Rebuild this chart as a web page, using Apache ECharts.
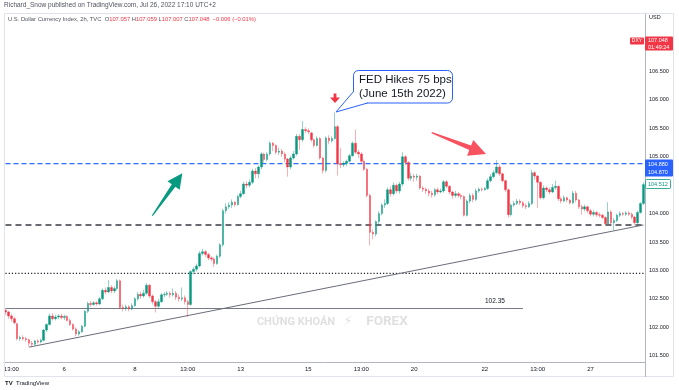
<!DOCTYPE html>
<html><head><meta charset="utf-8">
<script src="https://cdn.jsdelivr.net/npm/echarts@6.0.0/dist/echarts.min.js"></script>
<style>html,body{margin:0;padding:0;background:#fff}#c{width:679px;height:390px}</style>
</head><body><div id="c"></div>
<script>
// 2h candles, U.S. Dollar Currency Index
const opens = [
102.30,102.27,102.20,102.15,102.06,101.80,101.82,101.80,101.78,101.72,
101.70,101.76,101.74,101.77,101.95,102.05,102.20,102.15,102.18,102.20,
102.17,102.19,102.12,102.05,101.97,101.88,101.92,102.02,102.28,102.42,
102.40,102.43,102.41,102.50,102.65,102.62,102.70,102.64,102.68,102.82,
102.35,102.33,102.36,102.32,102.38,102.50,102.58,102.55,102.60,102.74,
102.55,102.45,102.37,102.45,102.57,102.58,102.60,102.57,102.60,102.53,
102.50,102.52,102.45,102.40,102.98,103.02,103.08,103.30,103.33,103.28,
103.22,103.20,103.12,103.25,103.45,104.05,104.12,104.15,104.20,104.16,
104.30,104.35,104.52,104.50,104.55,104.75,104.70,104.82,105.05,104.95,
105.05,105.24,105.20,105.08,105.10,105.05,104.96,104.82,104.98,105.05,
105.36,105.30,105.48,105.46,105.42,105.30,105.20,105.32,104.98,104.76,
105.33,105.28,105.32,105.53,104.88,104.86,104.88,104.92,105.02,105.24,
105.08,105.05,104.92,104.78,104.32,103.67,103.64,103.86,104.00,104.15,
104.18,104.42,104.35,104.50,104.40,104.52,105.00,104.90,104.62,104.66,
104.64,104.66,104.45,104.43,104.40,104.36,104.33,104.42,104.38,104.40,
104.56,104.48,104.38,104.32,104.35,104.32,104.30,103.97,104.22,104.32,
104.25,104.40,104.43,104.42,104.44,104.58,104.65,104.72,104.82,104.70,
104.58,104.42,103.98,104.15,104.18,104.22,104.19,104.14,104.12,104.18,
104.72,104.66,104.55,104.28,104.45,104.42,104.38,104.46,104.48,104.26,
104.22,104.28,104.24,104.19,104.36,104.24,104.12,104.08,104.12,104.05,
103.99,104.02,103.98,103.97,103.93,103.82,104.03,103.84,103.88,103.97,
104.00,103.99,104.01,103.99,103.94,103.84,104.02,104.18];
const closes = [
102.27,102.20,102.15,102.08,101.80,101.82,101.80,101.78,101.72,101.70,
101.76,101.74,101.77,101.95,102.05,102.20,102.15,102.18,102.20,102.17,
102.19,102.12,102.05,101.97,101.88,101.92,102.02,102.28,102.42,102.40,
102.43,102.41,102.50,102.65,102.62,102.70,102.64,102.68,102.82,102.35,
102.33,102.36,102.32,102.38,102.50,102.58,102.55,102.60,102.74,102.55,
102.45,102.37,102.45,102.57,102.58,102.60,102.57,102.60,102.53,102.50,
102.52,102.45,102.40,102.98,103.02,103.08,103.30,103.33,103.28,103.22,
103.20,103.12,103.25,103.45,104.05,104.12,104.15,104.20,104.16,104.30,
104.35,104.52,104.50,104.55,104.75,104.70,104.82,105.05,104.95,105.05,
105.24,105.20,105.08,105.10,105.05,104.96,104.82,104.98,105.05,105.36,
105.30,105.48,105.46,105.44,105.30,105.20,105.32,104.98,104.76,105.33,
105.28,105.32,105.53,104.88,104.86,104.88,104.92,105.02,105.24,105.08,
105.05,104.92,104.78,104.32,103.67,103.64,103.86,104.00,104.15,104.18,
104.42,104.35,104.50,104.40,104.52,105.00,104.90,104.62,104.66,104.64,
104.66,104.45,104.43,104.40,104.36,104.33,104.42,104.38,104.40,104.56,
104.48,104.38,104.32,104.35,104.32,104.30,103.97,104.22,104.32,104.25,
104.40,104.43,104.42,104.44,104.58,104.65,104.72,104.82,104.70,104.58,
104.42,103.98,104.15,104.18,104.22,104.19,104.14,104.12,104.18,104.72,
104.66,104.55,104.28,104.45,104.42,104.38,104.46,104.48,104.26,104.22,
104.28,104.24,104.19,104.36,104.24,104.12,104.08,104.12,104.05,103.99,
104.02,103.98,103.97,103.93,103.82,104.03,103.84,103.88,103.97,104.00,
103.99,104.01,103.99,103.94,103.84,104.02,104.18,104.51];
const lows = [
102.22,102.15,102.10,102.05,101.77,101.76,101.77,101.74,101.66,101.65,
101.68,101.71,101.72,101.75,101.92,102.03,102.12,102.12,102.14,102.14,
102.13,102.10,102.02,101.94,101.84,101.85,101.90,102.00,102.25,102.36,
102.38,102.38,102.39,102.48,102.58,102.60,102.60,102.60,102.65,102.32,
102.28,102.29,102.28,102.30,102.36,102.47,102.50,102.52,102.57,102.52,
102.40,102.26,102.33,102.43,102.53,102.55,102.52,102.54,102.48,102.45,
102.46,102.40,102.18,102.38,102.93,102.98,103.05,103.26,103.24,103.18,
103.16,103.06,103.10,103.22,103.42,104.00,104.08,104.10,104.12,104.14,
104.27,104.33,104.45,104.46,104.52,104.62,104.62,104.78,104.90,104.92,
105.02,105.10,105.04,105.03,105.00,104.90,104.65,104.78,104.95,105.02,
105.12,105.26,105.42,105.40,105.26,105.16,105.18,104.95,104.70,104.72,
105.22,105.25,105.30,104.67,104.80,104.82,104.84,104.90,105.00,105.05,
104.98,104.88,104.75,104.28,103.44,103.55,103.60,103.82,103.97,104.10,
104.15,104.30,104.32,104.36,104.35,104.48,104.85,104.58,104.58,104.56,
104.58,104.42,104.38,104.35,104.30,104.28,104.30,104.34,104.36,104.37,
104.45,104.34,104.26,104.28,104.28,104.25,103.95,103.95,104.18,104.20,
104.22,104.37,104.39,104.40,104.42,104.55,104.62,104.70,104.66,104.55,
104.38,103.93,103.95,104.12,104.15,104.15,104.10,104.08,104.10,104.15,
104.60,104.10,104.25,104.25,104.38,104.34,104.36,104.42,104.22,104.18,
104.20,104.20,104.16,104.17,104.20,104.08,103.98,104.04,104.00,103.95,
103.95,103.94,103.93,103.90,103.80,103.80,103.80,103.71,103.85,103.94,
103.96,103.96,103.96,103.90,103.80,103.80,104.00,104.15];
const highs = [
102.33,102.29,102.24,102.18,102.08,101.85,101.86,101.83,101.80,101.76,
101.78,101.79,101.80,101.97,102.07,102.24,102.25,102.22,102.23,102.24,
102.22,102.21,102.15,102.07,102.00,101.95,102.04,102.30,102.45,102.46,
102.46,102.46,102.53,102.68,102.70,102.83,102.74,102.72,102.85,102.84,
102.40,102.40,102.39,102.42,102.53,102.62,102.63,102.66,102.78,102.76,
102.58,102.48,102.50,102.60,102.62,102.64,102.63,102.68,102.64,102.58,
102.70,102.56,102.48,103.00,103.06,103.12,103.34,103.38,103.36,103.31,
103.25,103.23,103.28,103.48,104.08,104.18,104.20,104.25,104.22,104.33,
104.40,104.56,104.57,104.60,104.79,104.80,104.85,105.08,105.07,105.08,
105.27,105.26,105.22,105.16,105.14,105.08,104.98,105.02,105.10,105.40,
105.40,105.63,105.52,105.50,105.44,105.32,105.36,105.35,105.00,105.36,
105.38,105.36,105.78,105.56,105.15,104.92,104.95,105.05,105.27,105.48,
105.12,105.08,104.95,104.80,104.35,103.72,103.88,104.04,104.18,104.25,
104.46,104.48,104.55,104.53,104.56,105.08,105.03,104.92,104.72,104.70,
104.70,104.68,104.48,104.46,104.44,104.40,104.45,104.46,104.44,104.59,
104.59,104.50,104.40,104.40,104.38,104.35,104.32,104.25,104.36,104.36,
104.44,104.46,104.46,104.47,104.62,104.70,104.76,104.94,104.86,104.72,
104.60,104.44,104.18,104.22,104.26,104.25,104.22,104.18,104.22,104.77,
104.75,104.68,104.57,104.50,104.48,104.46,104.52,104.58,104.50,104.30,
104.32,104.30,104.26,104.40,104.40,104.26,104.16,104.16,104.14,104.08,
104.06,104.05,104.02,104.00,103.95,104.20,104.06,103.92,104.00,104.04,
104.03,104.04,104.04,104.02,103.96,104.05,104.20,104.55];

// x tick labels: [bar index, text]
const tickLabels = [[2,'13:00'],[20,'6'],[44,'8'],[62,'13:00'],[80,'13'],[103,'15'],[121,'13:00'],[139,'20'],[163,'22'],[181,'13:00'],[199,'27']];
const yTickValues = [101.5,102,102.5,103,103.5,104,104.5,105,105.5,106,106.5];

// drawn levels: [start bar, end bar, price]
const blueLevel = [0, 217, 104.88];
const blackLevel = [0, 217, 103.80];
const dottedLevel = [0, 217, 102.95];
const supportLevel = [0, 176, 102.33];
const supportLabel = '102.35';
const trendLine = [[8, 101.65], [217, 103.80]];

const categories = closes.map((_, i) => i);
const candles = closes.map((c, i) => [opens[i], c, lows[i], highs[i]]);
const tickMap = {};
tickLabels.forEach(([i, t]) => { tickMap[i] = t; });

const UP = '#089981', DOWN = '#f23645', BLUE = '#2962ff';
const FONT = "'Liberation Sans', Arial, sans-serif";

function lineSeries(pts, style, extra) {
  return Object.assign({
    type: 'line', data: pts, symbol: 'none', silent: true, z: 2,
    color: style.color,
    lineStyle: style, itemStyle: {color: style.color}, emphasis: {disabled: true}, animation: false
  }, extra || {});
}
const levelPts = (lv) => [[lv[0], lv[2]], [lv[1], lv[2]]];

const chart = echarts.init(document.getElementById('c'), null, {renderer: 'canvas'});
chart.setOption({
  animation: false,
  backgroundColor: '#ffffff',
  grid: {left: 4, right: 34, top: 13, bottom: 27.5, containLabel: false},
  xAxis: {
    type: 'category', data: categories, boundaryGap: true,
    axisLine: {show: true, lineStyle: {color: '#b2b5be', width: 1}},
    axisTick: {show: false},
    splitLine: {show: false},
    axisLabel: {
      interval: (idx) => tickMap[idx] !== undefined,
      formatter: (v, idx) => tickMap[idx] || '',
      color: '#131722', fontSize: 6, fontFamily: FONT, margin: 4
    }
  },
  yAxis: {
    type: 'value', position: 'right', min: 101.38, max: 107.53, scale: true,
    splitLine: {show: false},
    axisLine: {show: true, lineStyle: {color: '#b2b5be', width: 1}},
    axisTick: {show: false, customValues: yTickValues},
    axisLabel: {customValues: yTickValues, formatter: v => v.toFixed(3), color: '#131722', fontSize: 5.5, fontFamily: FONT, margin: 4}
  },
  series: [
    {
      type: 'candlestick',
      data: candles,
      barWidth: 2,
      z: 3,
      itemStyle: {color: UP, color0: DOWN, borderColor: 'rgba(8,153,129,0.55)', borderColor0: 'rgba(242,54,69,0.5)', borderWidth: 0.8}
    },
    lineSeries(levelPts(blueLevel), {color: '#2f6bff', type: [5, 3], width: 1.3}),
    lineSeries(levelPts(blackLevel), {color: '#3b3d45', type: [6, 4], width: 1.6}),
    lineSeries(levelPts(dottedLevel), {color: '#1e222d', type: [1.2, 2], width: 1.2}),
    lineSeries(levelPts(supportLevel), {color: '#787b86', type: 'solid', width: 1},
      {endLabel: {show: true, formatter: supportLabel, color: '#131722', fontSize: 6.5, fontFamily: FONT, offset: [-46, -7]}}),
    lineSeries(trendLine, {color: '#6a6d78', type: 'solid', width: 1})
  ],
  graphic: [
    // frame
    {type: 'rect', z: 50, silent: true, shape: {x: 4.5, y: 13.5, width: 669, height: 363}, style: {fill: 'none', stroke: '#e0e3eb', lineWidth: 1}},
    {type: 'line', z: 50, silent: true, shape: {x1: 645.5, y1: 362, x2: 645.5, y2: 377}, style: {stroke: '#b2b5be', lineWidth: 1}},
    // header
    {type: 'text', z: 60, x: 4, y: 5, style: {text: 'Richard_Snow published on TradingView.com, Jul 26, 2022 17:10 UTC+2', fontSize: 6.5, fontFamily: FONT, fill: '#50535e', verticalAlign: 'middle'}},
    {type: 'text', z: 60, x: 8, y: 19, style: {
      text: '{g|U.S. Dollar Currency Index, 2h, TVC  O}{r|107.057}{g| H}{r|107.059}{g| L}{r|107.007}{g| C}{r|107.048}{r|  −0.006 (−0.01%)}',
      verticalAlign: 'middle',
      rich: {g: {fill: '#50535e', fontSize: 5.8, fontFamily: FONT}, r: {fill: '#f23645', fontSize: 5.8, fontFamily: FONT}}}},
    // axis unit
    {type: 'text', z: 60, x: 649, y: 17, style: {text: 'USD', fontSize: 5.5, fontFamily: FONT, fill: '#131722', verticalAlign: 'middle'}},
    // price tags
    {type: 'rect', z: 60, shape: {x: 630, y: 37.5, width: 14, height: 7, r: 1}, style: {fill: DOWN}},
    {type: 'text', z: 61, x: 637, y: 41, style: {text: 'DXY', fontSize: 5, fontFamily: FONT, fill: '#fff', align: 'center', verticalAlign: 'middle'}},
    {type: 'rect', z: 60, shape: {x: 645, y: 36.5, width: 28, height: 14, r: 1}, style: {fill: DOWN}},
    {type: 'text', z: 61, x: 648, y: 40.5, style: {text: '107.048', fontSize: 5.5, fontFamily: FONT, fill: '#fff', verticalAlign: 'middle'}},
    {type: 'text', z: 61, x: 648, y: 47, style: {text: '01:49:24', fontSize: 5.5, fontFamily: FONT, fill: '#fff', verticalAlign: 'middle'}},
    {type: 'rect', z: 60, shape: {x: 645, y: 159.5, width: 28, height: 17, r: 1}, style: {fill: BLUE}},
    {type: 'text', z: 61, x: 648, y: 164.5, style: {text: '104.880', fontSize: 5.5, fontFamily: FONT, fill: '#fff', verticalAlign: 'middle'}},
    {type: 'text', z: 61, x: 648, y: 172, style: {text: '104.870', fontSize: 5.5, fontFamily: FONT, fill: '#fff', verticalAlign: 'middle'}},
    {type: 'rect', z: 60, shape: {x: 645.5, y: 179.5, width: 25, height: 9, r: 1}, style: {fill: '#fff', stroke: UP, lineWidth: 0.8}},
    {type: 'text', z: 61, x: 648, y: 184, style: {text: '104.512', fontSize: 5.5, fontFamily: FONT, fill: UP, verticalAlign: 'middle'}},
    // green arrow
    {type: 'polygon', z: 55, silent: true, shape: {points: [[151.8,215.4],[171.8,184.2],[167.5,181.2],[182.3,173.3],[179.7,189.8],[175.4,186.8],[152.8,216.0]]}, style: {fill: UP}},
    // red arrow
    {type: 'polygon', z: 55, silent: true, shape: {points: [[432.0,132.1],[471.1,145.5],[473.3,139.9],[486,154],[467.1,155.7],[469.3,150.1],[431.4,133.3]]}, style: {fill: '#f7525f'}},
    // small down arrow
    {type: 'polygon', z: 55, silent: true, shape: {points: [[333.6,93.5],[336.4,93.5],[336.4,97.5],[340,97.5],[335,103],[330,97.5],[333.6,97.5]]}, style: {fill: DOWN}},
    // callout box + tail
    {type: 'rect', z: 56, silent: true, shape: {x: 353.5, y: 70.5, width: 99, height: 32.5, r: 5}, style: {fill: '#ffffff', stroke: BLUE, lineWidth: 1}},
    {type: 'polygon', z: 57, silent: true, shape: {points: [[353.5,91.5],[336.5,111.5],[367.5,103]]}, style: {fill: '#ffffff'}},
    {type: 'polyline', z: 57, silent: true, shape: {points: [[353.5,91.5],[336,112],[367.5,103]]}, style: {stroke: BLUE, lineWidth: 1, fill: null}},
    {type: 'text', z: 58, x: 359, y: 80, style: {text: 'FED Hikes 75 bps', fontSize: 11.5, fontFamily: FONT, fill: '#131722', verticalAlign: 'middle'}},
    {type: 'text', z: 58, x: 359, y: 94, style: {text: '(June 15th 2022)', fontSize: 11.5, fontFamily: FONT, fill: '#131722', verticalAlign: 'middle'}},
    // watermark
    {type: 'text', z: 1, x: 296, y: 322, style: {text: 'CHỨNG KHOÁN', fontSize: 11, fontWeight: 'bold', fontFamily: "Roboto, 'Noto Sans', sans-serif", fill: '#e0e0e0', align: 'center', verticalAlign: 'middle'}},
    {type: 'text', z: 1, x: 348, y: 322, style: {text: '⚡', fontSize: 13, fontFamily: "'DejaVu Sans', sans-serif", fill: '#e0e0e0', align: 'center', verticalAlign: 'middle'}},
    {type: 'text', z: 1, x: 387, y: 322, style: {text: 'FOREX', fontSize: 13.5, fontWeight: 'bold', fontFamily: "Roboto, 'Noto Sans', sans-serif", fill: '#e0e0e0', align: 'center', verticalAlign: 'middle'}},
    // TradingView mark
    {type: 'text', z: 60, x: 5, y: 383, style: {text: '{b|TV} {t|TradingView}', verticalAlign: 'middle',
      rich: {b: {fontSize: 6, fontWeight: 'bold', fontFamily: FONT, fill: '#131722'}, t: {fontSize: 6, fontFamily: FONT, fill: '#131722'}}}}
  ]
});
</script></body></html>
